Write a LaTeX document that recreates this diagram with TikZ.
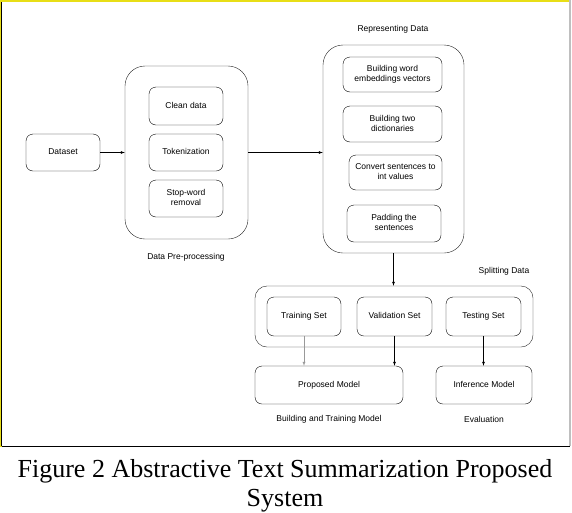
\documentclass[tikz,border=0pt]{standalone}
\usepackage{fontspec}
\setmainfont{Liberation Serif}
\setsansfont{Liberation Sans}
\usetikzlibrary{positioning}
\tikzstyle{stage}=[draw=black, rounded corners=7pt, inner sep=0pt, align=center,
    font=\sffamily\fontsize{8.5}{10}\selectfont, execute at begin node={\vphantom{Ag}}]
\tikzstyle{group}=[draw=black!85, rounded corners=20pt, inner sep=0pt]
\tikzstyle{group_label}=[font=\sffamily\fontsize{8.5}{10}\selectfont]

\begin{document}
\begin{tikzpicture}[x=1pt, y=-1pt, >=latex]
              \useasboundingbox[fill=white] (0,0) rectangle (572,512);
              % frame
              \draw[yellow!90!black, line width=1.6pt] (0.8,446.5) -- (0.8,0.8) -- (570,0.8);
              \draw[yellow!90!black, line width=1.6pt] (0.8,446.5) -- (570,446.5);
              \draw[black, line width=0.5pt] (1.5,446) -- (1.5,1.5);
              \draw[black, line width=0.5pt] (1.5,445.8) -- (570,445.8);
              \draw[black!25, line width=1.2pt] (570,0) -- (570,446);
              % nodes
              \node[stage, minimum width=74pt, minimum height=37pt] (dataset) at (63,152.5){Dataset};
              \node[group, minimum width=123pt, minimum height=173pt] (pre) at (186.5,152.5){};
              \node[stage, minimum width=74pt, minimum height=38pt] (clean) at (186,106){Clean data};
              \node[stage, minimum width=74pt, minimum height=37pt] (token) at (186,152.5){Tokenization};
              \node[stage, minimum width=74pt, minimum height=37pt] (stopword) at (186,198.5){Stop-word\\removal};
              \node[group_label] (prelabel) at (186,257){Data Pre-processing};
              \node[group, minimum width=141pt, minimum height=208pt] (rep) at (393.5,149){};
              \node[group_label] (replabel) at (393,29){Representing Data};
              \node[stage, minimum width=99pt, minimum height=35pt] (embed) at (392.5,74.5){Building word\\embeddings vectors};
              \node[stage, minimum width=99pt, minimum height=36pt] (dict) at (392.5,124){Building two\\dictionaries};
              \node[stage, minimum width=93pt, minimum height=35pt] (convert) at (395.5,172.5){Convert sentences to\\int values};
              \node[stage, minimum width=94pt, minimum height=37pt] (padding) at (394,223.5){Padding the\\sentences};
              \node[group, rounded corners=12pt, minimum width=278pt, minimum height=61pt] (split) at (394,316.5){};
              \node[group_label] (splitlabel) at (504,271){Splitting Data};
              \node[stage, minimum width=74pt, minimum height=39pt] (train) at (304,316.5){Training Set};
              \node[stage, minimum width=75pt, minimum height=39pt] (valid) at (394.5,316.5){Validation Set};
              \node[stage, minimum width=75pt, minimum height=39pt] (test) at (483.5,316.5){Testing Set};
              \node[stage, minimum width=148pt, minimum height=38pt] (proposed) at (329,385){Proposed Model};
              \node[stage, minimum width=96pt, minimum height=38pt] (infer) at (484,385){Inference Model};
              \node[group_label] (buildlabel) at (329,419){Building and Training Model};
              \node[group_label] (evallabel) at (484,419){Evaluation};
              % connectors
              \draw[->](dataset) -- (pre);
              \draw[->](pre.east) -- (pre.east -| rep.west);
              \draw[->](rep.south) -- (rep.south |- split.north);
              \draw[->, black!40](train.south) -- (train.south |- proposed.north);
              \draw[->](valid.south) -- (valid.south |- proposed.north);
              \draw[->](test.south) -- (test.south |- infer.north);
              % caption
              \node[align=center, font=\fontsize{26}{29}\selectfont, anchor=base] (caption) at (285,506)
                   {Figure 2 Abstractive Text Summarization Proposed\\System};
            \end{tikzpicture}
\end{document}
